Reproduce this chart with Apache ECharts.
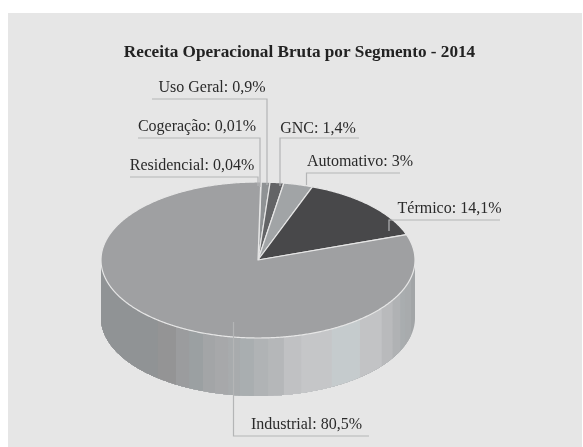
<!DOCTYPE html>
<html>
<head>
<meta charset="utf-8">
<style>
  html, body { margin: 0; background: #fff; }
  #chart { width: 583px; height: 447px; }
</style>
<script src="https://cdn.jsdelivr.net/npm/echarts@6/dist/echarts.min.js"></script>
</head>
<body>
<div id="chart"></div>
<script>
var categories = ['Residencial', 'Cogeração', 'Uso Geral', 'GNC', 'Automativo', 'Térmico', 'Industrial']
var values = [0.04, 0.01, 0.9, 1.4, 3, 14.1, 80.5]
var valueLabels = ['0,04%', '0,01%', '0,9%', '1,4%', '3%', '14,1%', '80,5%']

var sliceColors = ['#a2a3a5', '#a2a3a5', '#8f9294', '#636466', '#a1a4a6', '#48484a', '#9fa0a2']

// pie geometry, px
var cx = 258
var cy = 260
var rx = 157
var ry = 78
var depth = 58
var startDeg = 1

// wall shading of the front rim: [start angle clockwise from top, colour]
var wallBands = [
  [90, '#a2a5a7'], [103, '#a8abad'], [110.6, '#a9adaf'], [115, '#b0b2b4'], [121, '#b9babc'],
  [128, '#c2c3c5'], [139.5, '#c5cbcd'], [152, '#c5c6c8'], [164, '#c0c1c3'], [170.5, '#b5b7b9'],
  [176.3, '#b0b3b5'], [181.5, '#a9aeb0'], [186.6, '#a8abad'], [191, '#a7a8aa'], [195.9, '#a3a5a7'],
  [200.5, '#9ba0a2'], [206, '#9b9c9e'], [211.5, '#949495'], [219.6, '#909395']
]

// leader line (pixel path) and label centre for each category
var leaders = [
  { line: [[130, 177], [258, 177], [258, 186]], text: [192, 166] },
  { line: [[138, 138], [260, 138], [260, 187]], text: [197, 127] },
  { line: [[152, 99], [267, 99], [267, 185]], text: [212, 88] },
  { line: [[359, 138], [280, 138], [280, 186]], text: [318, 129] },
  { line: [[400, 173], [306.5, 173], [306.5, 185]], text: [360, 162] },
  { line: [[500, 220], [389, 220], [389, 231]], text: [449.5, 209] },
  { line: [[369, 436], [233.5, 436], [233.5, 322]], text: [306.5, 425] }
]

var labelFont = '16px "Liberation Serif"'

function rimPoint(deg, drop) {
  var a = deg * Math.PI / 180
  return [cx + rx * Math.sin(a), cy - ry * Math.cos(a) + (drop || 0)]
}

function arcPoints(from, to, drop) {
  var pts = []
  var steps = Math.max(2, Math.ceil(Math.abs(to - from) * 2))
  for (var i = 0; i <= steps; i++) {
    pts.push(rimPoint(from + (to - from) * i / steps, drop))
  }
  return pts
}

function renderWall() {
  var children = wallBands.map(function(b) {
    var top = arcPoints(b[0], 270, 0)
    var bottom = arcPoints(270, b[0], depth)
    return {
      type: 'polygon',
      shape: { points: top.concat(bottom) },
      style: { fill: b[1] }
    }
  })
  return { type: 'group', children: children }
}

var total = values.reduce(function(s, v) { return s + v }, 0)

function renderSlice(params, api) {
  var i = params.dataIndex
  var before = 0
  for (var k = 0; k < i; k++) before += values[k]
  var from = startDeg + before / total * 360
  var to = startDeg + (before + api.value(0)) / total * 360
  return {
    type: 'polygon',
    shape: { points: [[cx, cy]].concat(arcPoints(from, to, 0)) },
    style: { fill: sliceColors[i], stroke: '#e6e6e6', lineWidth: 1.2, lineJoin: 'round' }
  }
}

function renderLabel(params, api) {
  var i = params.dataIndex
  var l = leaders[i]
  return {
    type: 'group',
    children: [
      {
        type: 'polyline',
        shape: { points: l.line },
        style: { stroke: '#b4b5b6', lineWidth: 1.2, fill: null }
      },
      {
        type: 'text',
        x: l.text[0],
        y: l.text[1],
        style: {
          text: categories[i] + ': ' + valueLabels[i],
          font: labelFont,
          fill: '#2a2a2a',
          align: 'center',
          verticalAlign: 'middle'
        }
      }
    ]
  }
}

var chart = echarts.init(document.getElementById('chart'), null, { renderer: 'canvas' })
chart.setOption({
  animation: false,
  backgroundColor: '#ffffff',
  graphic: [{
    type: 'rect',
    z: -1,
    shape: { x: 8, y: 13, width: 574, height: 434 },
    style: { fill: '#e6e6e6' }
  }],
  title: {
    text: 'Receita Operacional Bruta por Segmento - 2014',
    left: 294.5,
    top: 39,
    textAlign: 'center',
    textStyle: { fontFamily: 'Liberation Serif', fontSize: 17.2, fontWeight: 'bold', color: '#222222' }
  },
  tooltip: { show: false },
  series: [
    { type: 'custom', coordinateSystem: 'none', z: 2, silent: true, data: [0], renderItem: renderWall },
    { type: 'custom', coordinateSystem: 'none', z: 3, silent: true, data: values, renderItem: renderSlice },
    { type: 'custom', coordinateSystem: 'none', z: 4, silent: true, data: values, renderItem: renderLabel }
  ]
})
</script>
</body>
</html>
